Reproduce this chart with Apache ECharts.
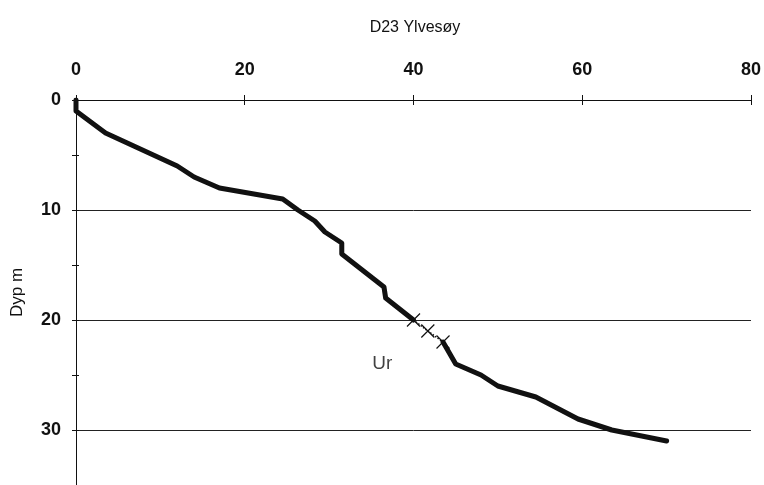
<!DOCTYPE html>
<html>
<head>
<meta charset="utf-8">
<script src="https://cdn.jsdelivr.net/npm/echarts@6/dist/echarts.min.js"></script>
<style>
  html, body { margin: 0; padding: 0; background: #fff; }
  #chart { width: 764px; height: 485px; }
</style>
</head>
<body>
<div id="chart"></div>
<script>
// profil D23, verdi langs x mot dybde (m)
const xTicks = [0, 20, 40, 60, 80];
const depthTicks = [0, 10, 20, 30];

// øvre del, tykk linje
const upperDepth = [0, 1, 3, 6, 7, 8, 9, 10, 11, 12, 13, 14, 17, 18, 20];
const upperValue = [0, 0, 3.5, 12, 14, 17, 24.5, 26.3, 28.3, 29.5, 31.5, 31.5, 36.5, 36.7, 40];

// ur-partiet med kryss
const urDepth = [20, 21, 22];
const urValue = [40, 41.7, 43.5];

// nedre del, tykk linje
const lowerDepth = [22, 24, 25, 26, 27, 29, 30, 31];
const lowerValue = [43.5, 45, 48, 50, 54.5, 59.5, 63.5, 70];

const urLabel = { text: 'Ur', value: 36.3, depth: 24 };

function pairs(xs, ys) {
    return xs.map(function (x, i) { return [x, ys[i]]; });
}

const font = '"Liberation Sans Narrow", "Liberation Sans", Arial, sans-serif';
const black = '#111';

let chart = echarts.init(document.getElementById('chart'), null, {renderer: 'canvas'});

let option = {
    animation: false,
    backgroundColor: '#fff',
    title: {
        text: 'D23 Ylvesøy',
        left: 410,
        top: 15,
        textAlign: 'center',
        textStyle: {
            fontFamily: font,
            fontSize: 16,
            fontWeight: 'normal',
            color: black
        }
    },
    grid: {
        left: 76,
        right: 13,
        top: 100,
        bottom: 0
    },
    xAxis: [
        {
            type: 'value',
            position: 'top',
            min: 0,
            max: 80,
            interval: 20,
            axisLine: {show: true, lineStyle: {color: black, width: 1}},
            axisTick: {show: true, length: 5, lineStyle: {color: black}},
            axisLabel: {
                margin: 21,
                fontFamily: font,
                fontSize: 18,
                fontWeight: 'bold',
                color: black,
                formatter: function (v) {
                    return xTicks.indexOf(v) >= 0 ? String(v) : '';
                }
            },
            splitLine: {show: false}
        },
        {
            // kryssende tick-merker inn i plottet
            type: 'value',
            position: 'top',
            min: 0,
            max: 80,
            interval: 20,
            axisLine: {show: false},
            axisTick: {show: true, inside: true, length: 5, lineStyle: {color: black}},
            axisLabel: {show: false},
            splitLine: {show: false}
        }
    ],
    yAxis: [
        {
            type: 'value',
            inverse: true,
            min: 0,
            max: 35,
            interval: 5,
            name: 'Dyp m',
            nameLocation: 'middle',
            nameGap: 50,
            nameRotate: 90,
            nameTextStyle: {
                fontFamily: font,
                fontSize: 17,
                color: black
            },
            axisLine: {show: true, lineStyle: {color: black, width: 1}},
            axisTick: {show: true, length: 4, lineStyle: {color: black}},
            axisLabel: {
                margin: 15,
                fontFamily: font,
                fontSize: 18,
                fontWeight: 'bold',
                color: black,
                formatter: function (v) {
                    return depthTicks.indexOf(v) >= 0 ? String(v) : '';
                }
            },
            splitLine: {show: false}
        },
        {
            type: 'value',
            inverse: true,
            min: 0,
            max: 35,
            interval: 5,
            position: 'left',
            axisLine: {show: false},
            axisTick: {show: true, inside: true, length: 3, lineStyle: {color: black}},
            axisLabel: {show: false},
            splitLine: {show: false}
        },
        {
            // rutenett kun ved 10, 20, 30
            type: 'value',
            inverse: true,
            min: 0,
            max: 35,
            interval: 10,
            position: 'left',
            axisLine: {show: false},
            axisTick: {show: false},
            axisLabel: {show: false},
            splitLine: {show: true, lineStyle: {color: '#222', width: 1}}
        }
    ],
    series: [
        {
            type: 'line',
            data: pairs(upperValue, upperDepth),
            symbol: 'none',
            lineStyle: {color: black, width: 5, join: 'round', cap: 'round'},
            z: 5
        },
        {
            type: 'line',
            data: pairs(urValue, urDepth),
            symbol: 'path://M0,0L10,10M10,0L0,10',
            symbolSize: 13,
            itemStyle: {color: 'none', borderColor: black, borderWidth: 1.2},
            lineStyle: {color: black, width: 1.5, type: 'dotted'},
            z: 6
        },
        {
            type: 'line',
            data: pairs(lowerValue, lowerDepth),
            symbol: 'none',
            lineStyle: {color: black, width: 5, join: 'round', cap: 'round'},
            z: 5
        },
        {
            type: 'scatter',
            data: [[urLabel.value, urLabel.depth]],
            symbolSize: 0,
            silent: true,
            label: {
                show: true,
                position: 'inside',
                formatter: urLabel.text,
                fontFamily: font,
                fontSize: 19,
                color: black
            }
        }
    ]
};

chart.setOption(option);
</script>
</body>
</html>
